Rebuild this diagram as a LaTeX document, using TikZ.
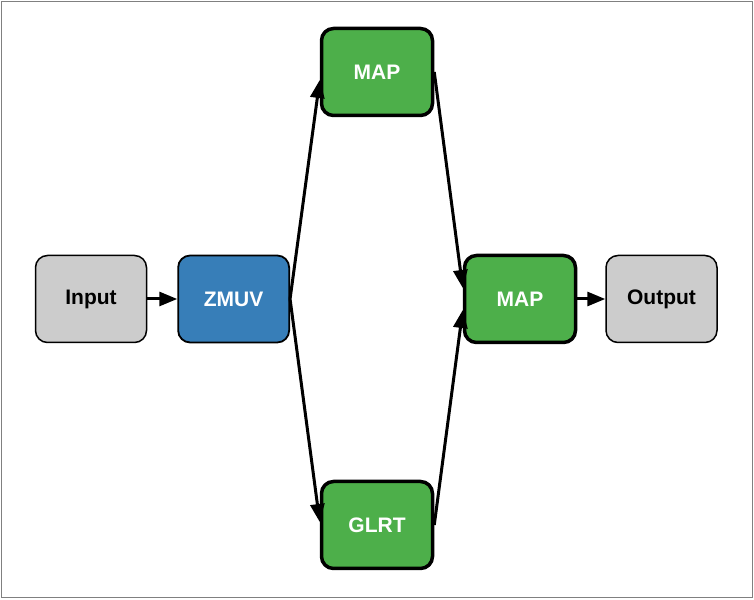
\documentclass[tikz,border=0pt]{standalone}
\usepackage{fontspec}
\setmainfont{Liberation Sans}
\usepackage{xcolor}
\usetikzlibrary{shapes,arrows.meta,positioning}

\definecolor{boxgray}{HTML}{CCCCCC}
\definecolor{boxblue}{HTML}{377EB8}
\definecolor{boxgreen}{HTML}{4DAF4A}

\begin{document}
\begin{tikzpicture}[x=1pt,y=1pt,
  block/.style={rectangle, rounded corners=12pt, minimum width=111pt, minimum height=87pt, font=\fontsize{21}{24}\selectfont\bfseries},
  io/.style={block, draw, line width=1.5pt, fill=boxgray},
  prep/.style={block, draw, line width=1.8pt, fill=boxblue, text=white},
  stage/.style={block, draw, line width=3.5pt, fill=boxgreen, text=white},
  link/.style={line width=3pt, -{Triangle[length=18pt,width=14pt]}}]
\useasboundingbox (0,0) rectangle (754,599);
\draw [gray, line width=1.5pt] (1.5,1.5) rectangle (752.5,597.5);

\node (input) [io] at (91,300) {Input};
\node (zmuv) [prep, right=30pt of input] {ZMUV};
\node (maptop) [stage] at (377,527) {MAP};
\node (glrt) [stage] at (377,74) {GLRT};
\node (mapout) [stage] at (520,300) {MAP};
\node (output) [io, right=28pt of mapout] {Output};

\draw [link] (input) -- (zmuv);
\draw [link] (zmuv.east) -- ([yshift=-8pt]maptop.west);
\draw [link] (zmuv.east) -- ([yshift=3pt]glrt.west);
\draw [link] (maptop.east) -- ([yshift=11pt]mapout.west);
\draw [link] (glrt.east) -- ([yshift=-11pt]mapout.west);
\draw [link] (mapout) -- (output);
\end{tikzpicture}
\end{document}
